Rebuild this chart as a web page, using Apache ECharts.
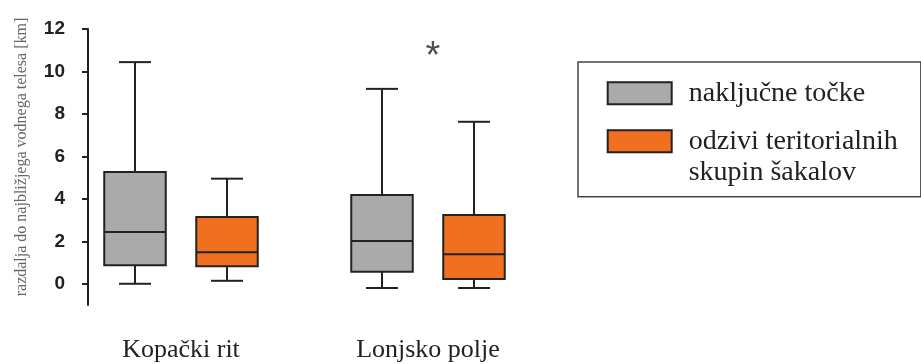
<!DOCTYPE html>
<html><head><meta charset="utf-8">
<script src="https://cdn.jsdelivr.net/npm/echarts@6/dist/echarts.min.js"></script>
<style>html,body{margin:0;padding:0;background:#fff}#c{width:921px;height:364px}</style>
</head><body><div id="c"></div>
<script>
// ---- data ----
const categories = ['Kopački rit', 'Lonjsko polje'];
const seriesNames = ['naključne točke', 'odzivi teritorialnih skupin šakalov'];
// [min, Q1, median, Q3, max] per category
const randomPoints = [[0.0, 0.87, 2.44, 5.27, 10.44], [-0.2, 0.57, 2.01, 4.18, 9.18]];
const jackalResponses = [[0.14, 0.83, 1.48, 3.15, 4.95], [-0.2, 0.22, 1.39, 3.24, 7.63]];
const yTicks = [0, 2, 4, 6, 8, 10, 12];
const significance = [['Lonjsko polje', 10.65]];
const yAxisTitle = 'razdalja do najbližjega vodnega telesa [km]';

// ---- chart ----
const INK = '#222';
function makeRender(offset) {
  return function (params, api) {
    const ci = api.value(0);
    const pt = v => api.coord([ci, v]);
    const cx = pt(api.value(3))[0] + offset;
    const yMin = pt(api.value(1))[1], yQ1 = pt(api.value(2))[1], yMed = pt(api.value(3))[1],
          yQ3 = pt(api.value(4))[1], yMax = pt(api.value(5))[1];
    const hw = 30.75, cap = 16;
    const ls = { stroke: INK, lineWidth: 2, fill: null };
    return { type: 'group', children: [
      { type: 'line', shape: { x1: cx, y1: yMax, x2: cx, y2: yQ3 }, style: ls },
      { type: 'line', shape: { x1: cx, y1: yQ1, x2: cx, y2: yMin }, style: ls },
      { type: 'line', shape: { x1: cx - cap, y1: yMax, x2: cx + cap, y2: yMax }, style: ls },
      { type: 'line', shape: { x1: cx - cap, y1: yMin, x2: cx + cap, y2: yMin }, style: ls },
      { type: 'rect', shape: { x: cx - hw, y: yQ3, width: 2 * hw, height: yQ1 - yQ3 },
        style: { fill: api.visual('color'), stroke: INK, lineWidth: 2 } },
      { type: 'line', shape: { x1: cx - hw, y1: yMed, x2: cx + hw, y2: yMed }, style: ls }
    ]};
  };
}
const toData = arr => arr.map((d, i) => [i].concat(d));

const chart = echarts.init(document.getElementById('c'), null, { renderer: 'canvas' });
chart.setOption({
  animation: false,
  backgroundColor: '#fff',
  grid: { left: 57.5, width: 494, top: 29, height: 276 },
  xAxis: {
    type: 'category', data: categories,
    axisLine: { show: false }, axisTick: { show: false }, splitLine: { show: false },
    axisLabel: { fontFamily: 'Liberation Serif', fontSize: 26, color: INK, margin: 32 }
  },
  yAxis: {
    type: 'value', min: -1, max: 12, offset: -30.5,
    name: yAxisTitle, nameLocation: 'middle', nameGap: 58,
    nameTextStyle: { fontFamily: 'Liberation Serif', fontSize: 16, color: '#666', padding: [0, 0, 0, 20] },
    axisLine: { show: true, lineStyle: { color: INK, width: 2 } },
    axisTick: { show: true, length: 6, lineStyle: { color: INK, width: 2 }, customValues: yTicks },
    axisLabel: { fontFamily: 'Liberation Sans', fontWeight: 'bold', fontSize: 19, color: INK, margin: 23, customValues: yTicks },
    splitLine: { show: false }
  },
  legend: {
    orient: 'vertical', left: 578, top: 62,
    padding: [15.8, 23, 8.9, 28.7],
    borderColor: '#444', borderWidth: 1.5,
    itemWidth: 64, itemHeight: 22, itemGap: -14,
    icon: 'rect', selectedMode: false,
    itemStyle: { borderColor: INK, borderWidth: 2 },
    textStyle: { fontFamily: 'Liberation Serif', fontSize: 28, color: INK, lineHeight: 31, padding: [0, 0, 0, 12] },
    formatter: name => name === seriesNames[1] ? '\nodzivi teritorialnih\nskupin šakalov' : name,
    data: seriesNames
  },
  series: [
    { name: seriesNames[0], type: 'custom', renderItem: makeRender(-46),
      itemStyle: { color: '#aaaaaa' }, encode: { x: 0, y: [1, 2, 3, 4, 5] }, data: toData(randomPoints) },
    { name: seriesNames[1], type: 'custom', renderItem: makeRender(46),
      itemStyle: { color: '#f0701f' }, encode: { x: 0, y: [1, 2, 3, 4, 5] }, data: toData(jackalResponses) },
    { name: 'sig', type: 'scatter', symbolSize: 1, itemStyle: { color: 'rgba(0,0,0,0)' },
      data: significance, silent: true,
      label: { show: true, formatter: '*', position: 'inside', offset: [5, 0],
        fontFamily: 'Liberation Sans', fontSize: 38, color: '#222' } }
  ]
});
</script></body></html>
